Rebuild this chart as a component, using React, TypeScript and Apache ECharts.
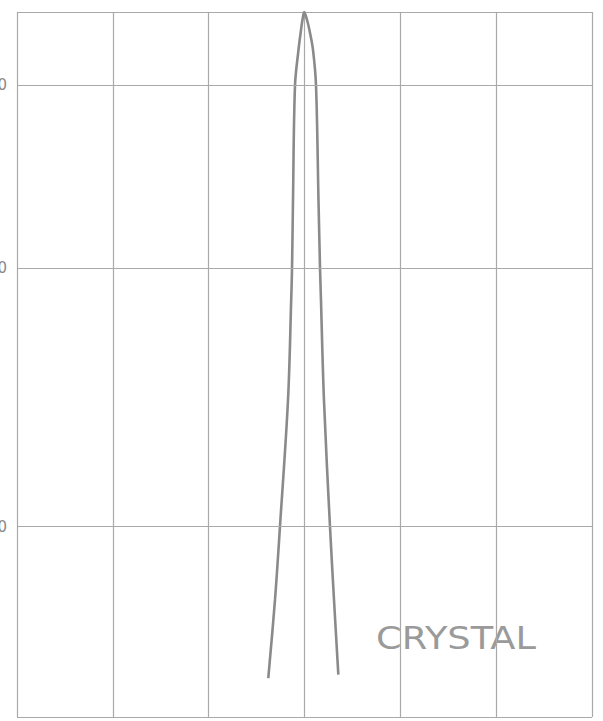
import React, { useEffect, useRef } from "react";
import * as echarts from "echarts";

// Frequency offset (grid divisions from centre) and relative response (% of full height)
const curveX = [
  -0.378, -0.308, -0.256, -0.172, -0.139, -0.13, -0.12, -0.099, -0.063, -0.037, -0.021, -0.003,
  0.026, 0.052, 0.089, 0.12, 0.146, 0.162, 0.172, 0.203, 0.266, 0.308, 0.353,
];
const curveY = [
  5.5, 16.6, 27.0, 45.0, 59.1, 63.7, 73.3, 89.6, 94.6, 97.4, 98.9, 100,
  98.9, 97.4, 94.6, 89.6, 73.3, 63.7, 59.1, 45.0, 27.0, 16.6, 6.0,
];

// Horizontal reference levels (non-uniform) and their (cut-off) labels
const levelValues = [27.0, 63.7, 89.6];
const levelLabels = ["0", "0", "0"];

const seriesLabel = "CRYSTAL";

export default function App() {
  const ref = useRef<HTMLDivElement>(null);
  useEffect(() => {
    if (!ref.current) return;
    const chart = echarts.init(ref.current, null, { renderer: "svg" });
    const curve = curveX.map((x, i) => [x, curveY[i]]);
    const gridColor = "#a9a9a9";
    chart.setOption({
      animation: false,
      backgroundColor: "#ffffff",
      grid: { left: 17, right: 11, top: 12, bottom: 4 },
      xAxis: {
        type: "value",
        min: -3,
        max: 3,
        interval: 1,
        axisLine: { show: false },
        axisTick: { show: false },
        axisLabel: { show: false },
        splitLine: { show: true, lineStyle: { color: gridColor, width: 1.2 } },
      },
      yAxis: {
        type: "value",
        min: 0,
        max: 100,
        interval: 100,
        axisLine: { show: false },
        axisTick: { show: false },
        axisLabel: { show: false },
        splitLine: { show: true, lineStyle: { color: gridColor, width: 1.2 } },
      },
      graphic: [
        {
          type: "text",
          left: 376,
          top: 622,
          scaleX: 1.15,
          style: {
            text: seriesLabel,
            fill: "#9a9a9a",
            font: '400 32px "DejaVu Sans"',
          },
        },
      ],
      series: [
        {
          type: "line",
          data: curve,
          smooth: 0.35,
          symbol: "none",
          lineStyle: { color: "#8a8a8a", width: 2.6 },
          markLine: {
            silent: true,
            symbol: "none",
            lineStyle: { color: gridColor, width: 1.2, type: "solid" },
            label: {
              show: true,
              position: "start",
              distance: 10,
              color: "#8a8a8a",
              fontSize: 15,
              fontFamily: "DejaVu Sans",
              formatter: (p: any) => levelLabels[p.dataIndex],
            },
            data: levelValues.map((v) => ({ yAxis: v })),
          },
        },
      ],
    });
    return () => chart.dispose();
  }, []);
  return (
    <div
      ref={ref}
      style={{ position: "fixed", left: 0, top: 0, width: 603, height: 721, background: "#fff" }}
    />
  );
}
